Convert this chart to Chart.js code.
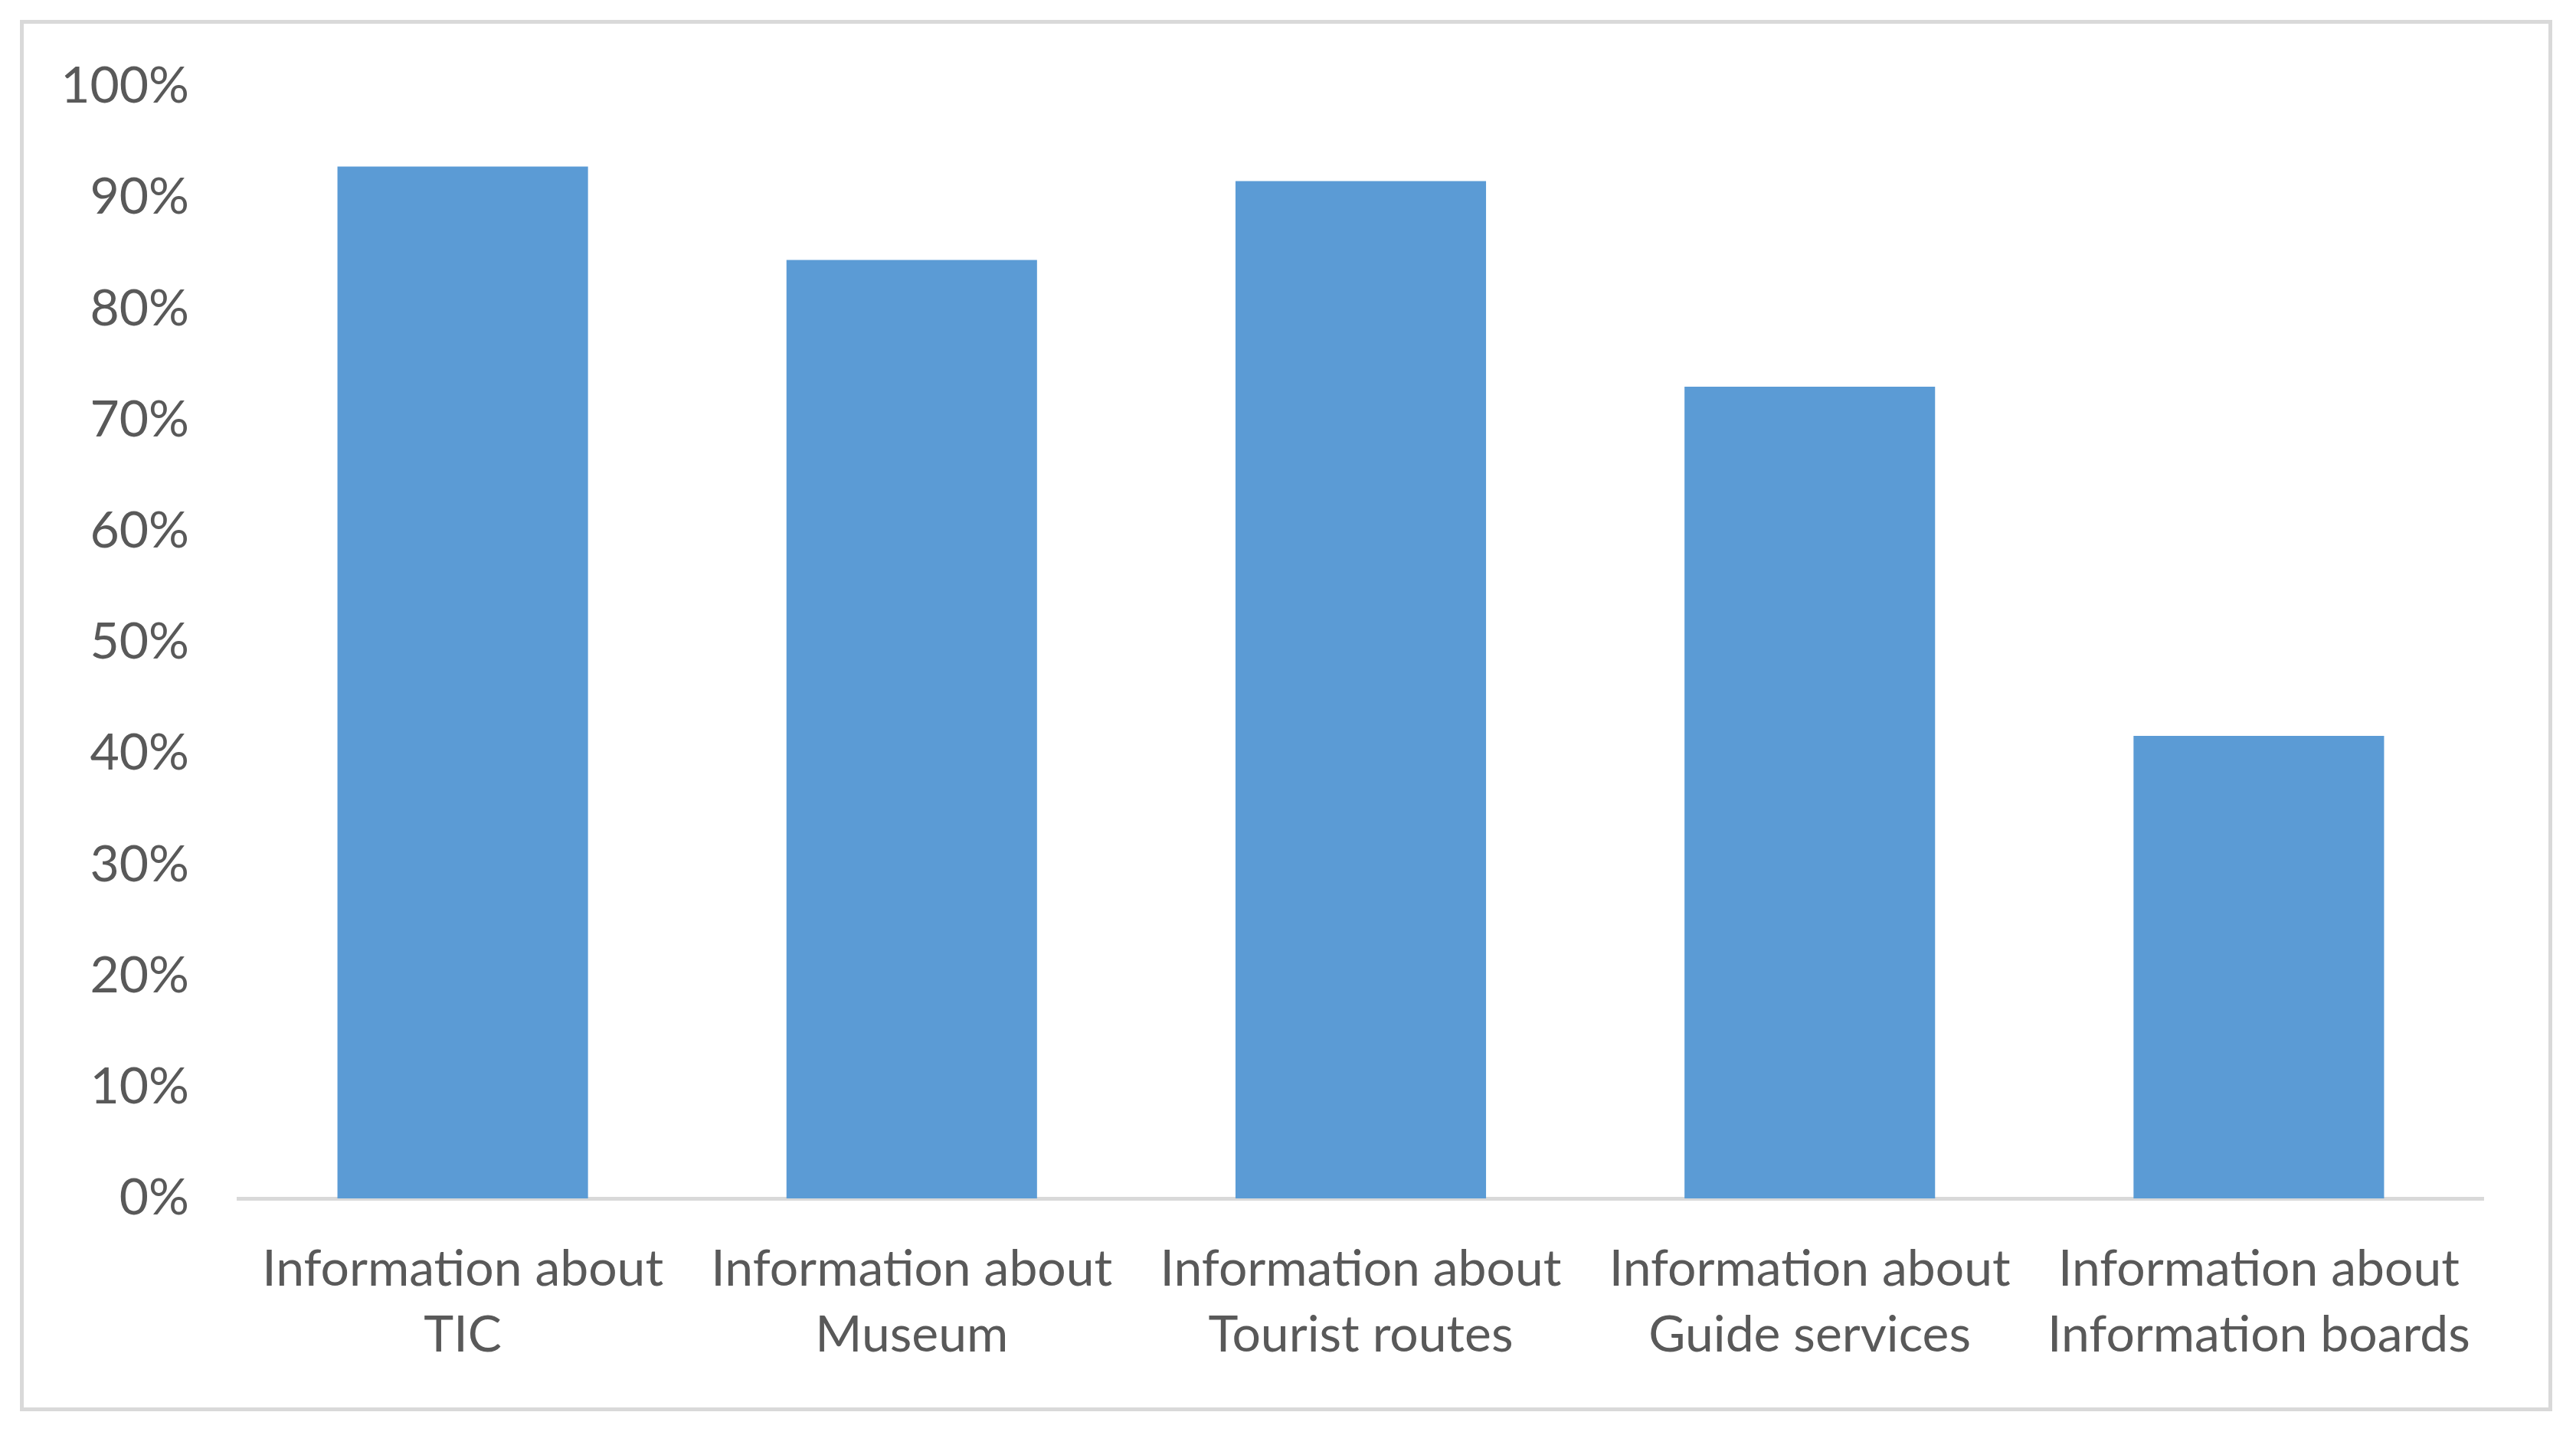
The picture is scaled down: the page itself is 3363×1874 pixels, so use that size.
<!DOCTYPE html>
<html>
<head>
<meta charset="utf-8">
<script src="https://cdn.jsdelivr.net/npm/chart.js@4.4.0/dist/chart.umd.min.js"></script>
<style>
  html, body { margin: 0; padding: 0; background: #fff; }
  #frame {
    position: absolute; left: 26px; top: 26px; width: 3306px; height: 1817px;
    box-sizing: border-box; border: 5px solid #d9d9d9; pointer-events: none;
  }
  #myChart { position: absolute; left: 0; top: 0; }
</style>
</head>
<body>
<canvas id="myChart" width="3363" height="1874"></canvas>
<div id="frame"></div>
<script>
// share of respondents (%)
const categories = [
    ['Information about', 'TIC'],
    ['Information about', 'Museum'],
    ['Information about', 'Tourist routes'],
    ['Information about', 'Guide services'],
    ['Information about', 'Information boards']
];
const shares = [92.8, 84.4, 91.5, 73.0, 41.6];
const yTicks = [0, 10, 20, 30, 40, 50, 60, 70, 80, 90, 100];

Chart.defaults.font.family = 'Lato';
Chart.defaults.font.size = 66;
Chart.defaults.color = '#595959';

const myChart = document.getElementById('myChart');

new Chart(myChart, {
    type: 'bar',
    data: {
        labels: categories,
        datasets: [{
            data: shares,
            backgroundColor: '#5b9bd5',
            borderWidth: 0,
            barPercentage: 0.558,
            categoryPercentage: 1
        }]
    },
    options: {
        responsive: false,
        animation: false,
        layout: { padding: { left: 0, top: 113, right: 121, bottom: 0 } },
        plugins: {
            legend: { display: false },
            tooltip: { enabled: false }
        },
        scales: {
            x: {
                grid: { display: false, drawTicks: false },
                border: { display: true, color: '#d9d9d9', width: 5 },
                ticks: {
                    padding: 50,
                    maxRotation: 0,
                    autoSkip: false,
                    font: { size: 66, lineHeight: 1.3 }
                },
                afterFit: (scale) => { scale.height = 309; }
            },
            y: {
                min: 0,
                max: 100,
                grid: { display: false, drawTicks: false },
                border: { display: false },
                afterBuildTicks: (scale) => {
                    scale.ticks = yTicks.map(v => ({ value: v }));
                },
                ticks: {
                    padding: 64,
                    callback: (v) => v + '%'
                },
                afterFit: (scale) => { scale.width = 311; }
            }
        }
    }
});
</script>
</body>
</html>
